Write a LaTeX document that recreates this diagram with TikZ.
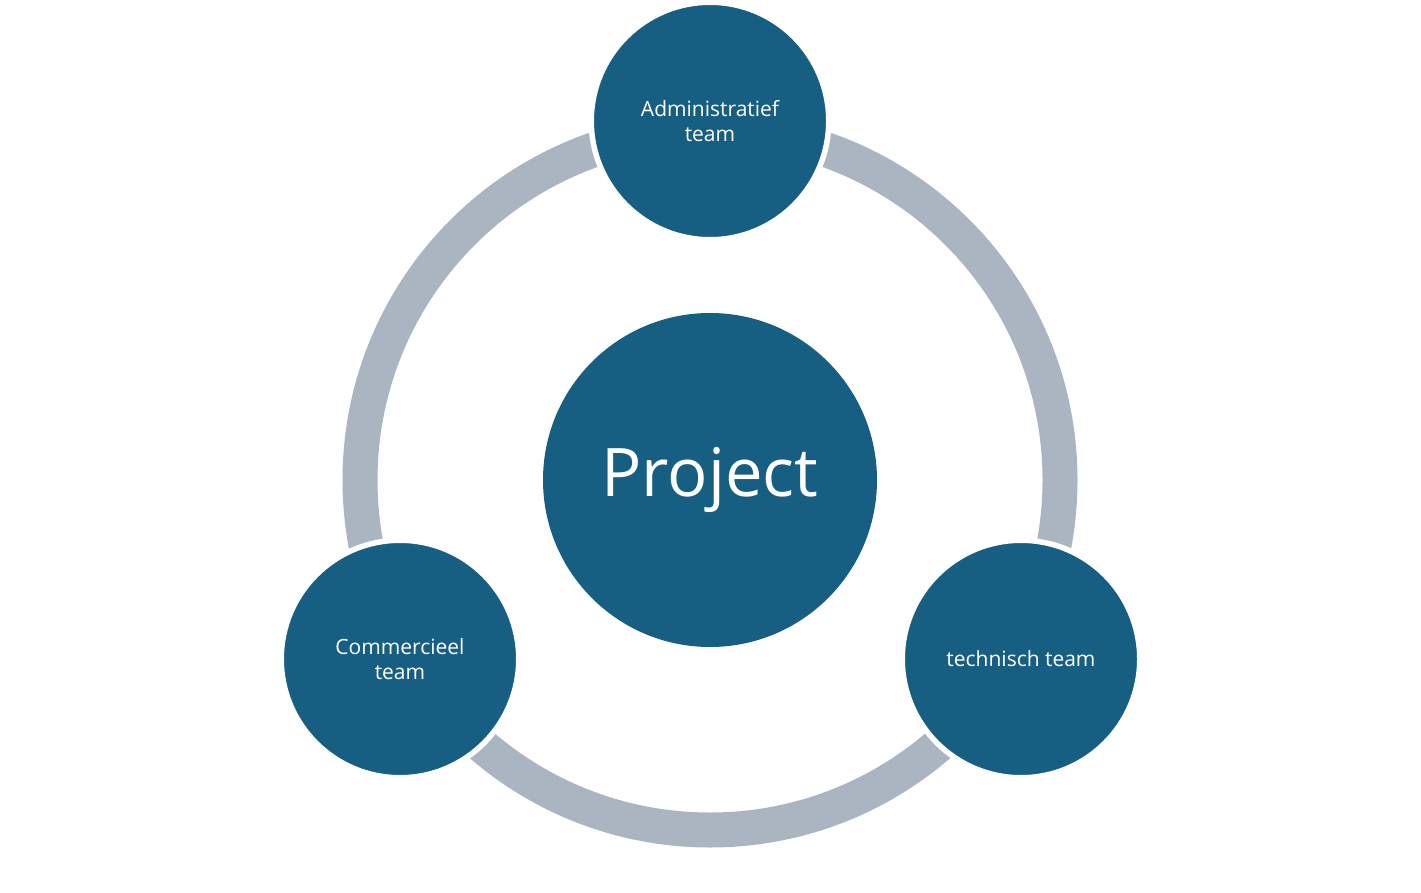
\documentclass[tikz,border=0pt]{standalone}
\usepackage{fontspec}
\setmainfont{Open Sans}

\definecolor{teamblue}{RGB}{23,95,130}
\definecolor{ringgrey}{RGB}{171,181,193}

\tikzset{
    team/.style={circle, fill=teamblue, draw=white, line width=5.5pt,
        minimum size=237.5pt, inner sep=0pt, text=white, align=center,
        font=\fontsize{21}{25}\selectfont},
    hub/.style={circle, fill=teamblue, minimum size=334pt, inner sep=0pt,
        text=white, font=\fontsize{67}{72}\selectfont},
}

\begin{document}
\begin{tikzpicture}[x=1pt,y=-1pt]

        \useasboundingbox (0,0) rectangle (1421,893);

        \coordinate (o) at (710,480);

        % Draw ring
        \draw[ringgrey, line width=35pt] (o) circle (350pt);

        \node[team] (adm) at (710,121) {Administratief\\team};
        \node[team] (comm) at (400,659) {Commercieel\\team};
        \node[team] (tech) at (1021,659) {technisch team};

        % Draw project
        \node[hub] (project) at (o) {Project};

        \end{tikzpicture}
\end{document}
